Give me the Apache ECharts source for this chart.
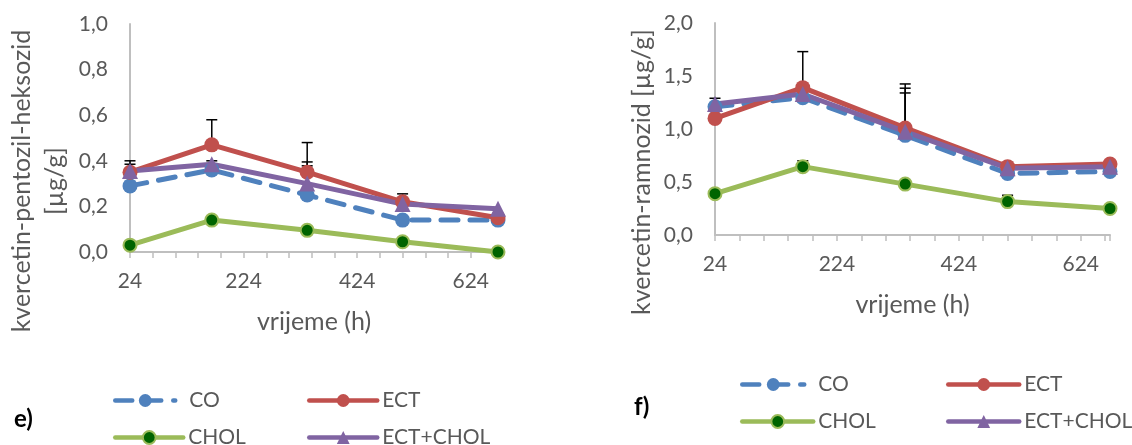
<!DOCTYPE html>
<html>
<head>
<meta charset="utf-8">
<script src="https://cdn.jsdelivr.net/npm/echarts@6/dist/echarts.min.js"></script>
<style>html,body{margin:0;padding:0;background:#fff}#c{width:1132px;height:445px}</style>
</head>
<body>
<div id="c"></div>
<script>
// ---- data ----
const hours = [24, 168, 336, 504, 672];
const seriesNames = ['CO', 'ECT', 'CHOL', 'ECT+CHOL'];

// panel e) kvercetin-pentozil-heksozid
const eCO      = [0.29, 0.36, 0.25, 0.14, 0.14];
const eECT     = [0.35, 0.47, 0.35, 0.22, 0.15];
const eCHOL    = [0.03, 0.14, 0.095, 0.045, 0.0];
const eECTCHOL = [0.355, 0.385, 0.30, 0.21, 0.19];
// upper error bars (null = none visible)
const eCOErr      = [null, null, 0.128, null, null];
const eECTErr     = [0.05, 0.11, 0.13, 0.035, null];
const eCHOLErr    = [null, null, null, null, null];
const eECTCHOLErr = [0.03, 0.015, 0.095, null, null];

// panel f) kvercetin-ramnozid
const fCO      = [1.21, 1.295, 0.94, 0.58, 0.60];
const fECT     = [1.10, 1.39, 1.01, 0.645, 0.67];
const fCHOL    = [0.39, 0.645, 0.48, 0.315, 0.25];
const fECTCHOL = [1.235, 1.33, 0.975, 0.63, 0.645];
const fCOErr      = [null, null, 0.40, null, null];
const fECTErr     = [null, 0.34, 0.415, null, null];
const fCHOLErr    = [null, 0.055, null, 0.06, null];
const fECTCHOLErr = [0.055, null, 0.41, null, null];

const xTitle = 'vrijeme (h)';
const eYTitle = 'kvercetin-pentozil-heksozid\n[µg/g]';
const fYTitle = 'kvercetin-ramnozid [µg/g]';
const xMin = 24, xMax = 672, xStep = 40, xLabelStep = 200;

// ---- styling ----
const F = 'Lato';
const TXT = '#595959';
const AX = '#BFBFBF';
const COL = { 'CO': '#4F81BD', 'ECT': '#C0504D', 'CHOL': '#9BBB59', 'ECT+CHOL': '#8064A2' };

function lineSeries(name, vals, gi) {
  const s = {
    name: name, type: 'line', xAxisIndex: gi, yAxisIndex: gi,
    data: hours.map((h, i) => [h, vals[i]]),
    symbol: 'circle', symbolSize: 15,
    lineStyle: { color: COL[name], width: 5, cap: 'round', join: 'round' },
    itemStyle: { color: COL[name] },
    emphasis: { disabled: true },
    z: 3, animation: false
  };
  if (name === 'CO') { s.lineStyle.type = [17, 12]; }
  if (name === 'CHOL') { s.symbolSize = 13; s.itemStyle = { color: '#006400', borderColor: '#9BBB59', borderWidth: 2 }; }
  if (name === 'ECT+CHOL') { s.symbol = 'triangle'; s.symbolSize = 16; }
  return s;
}

function errSeries(vals, errs, gi) {
  const data = [];
  hours.forEach((h, i) => { if (errs[i] != null) data.push([h, vals[i], vals[i] + errs[i]]); });
  return {
    type: 'custom', xAxisIndex: gi, yAxisIndex: gi, z: 2, silent: true, animation: false,
    data: data,
    renderItem: function (params, api) {
      const p0 = api.coord([api.value(0), api.value(1)]);
      const p1 = api.coord([api.value(0), api.value(2)]);
      const st = { stroke: '#000', lineWidth: 1.5 };
      return { type: 'group', children: [
        { type: 'line', shape: { x1: p0[0], y1: p0[1], x2: p1[0], y2: p1[1] }, style: st },
        { type: 'line', shape: { x1: p1[0] - 5.5, y1: p1[1], x2: p1[0] + 5.5, y2: p1[1] }, style: st }
      ]};
    }
  };
}

function xAxis(gi) {
  return {
    type: 'value', gridIndex: gi, min: xMin, max: xMax, interval: xStep,
    name: xTitle, nameLocation: 'middle', nameGap: 55,
    nameTextStyle: { fontFamily: F, fontSize: 25, color: TXT, lineHeight: 30 },
    axisLine: { show: true, lineStyle: { color: AX, width: 2 } },
    axisTick: { show: true, length: 6, lineStyle: { color: AX, width: 1.5 } },
    splitLine: { show: false },
    axisLabel: { fontFamily: F, fontSize: 21, color: TXT, margin: 19,
      formatter: v => ((v - xMin) % xLabelStep === 0 ? String(v) : '') }
  };
}
function yAxis(gi, max, step) {
  return {
    type: 'value', gridIndex: gi, min: 0, max: max, interval: step,
    axisLine: { show: true, lineStyle: { color: AX, width: 2 } },
    axisTick: { show: false },
    splitLine: { show: false },
    axisLabel: { fontFamily: F, fontSize: 21, color: TXT, margin: 22,
      formatter: v => v.toFixed(1).replace('.', ',') }
  };
}

function leg(name, left, cy, w, pad) {
  return {
    data: [name], left: left, top: cy - 10, itemWidth: w, itemHeight: 16,
    padding: 0, itemGap: 0, selectedMode: false,
    lineStyle: { width: 4.5 },
    textStyle: { fontFamily: F, fontSize: 21, color: TXT, padding: [0, 0, 0, pad] }
  };
}

function yTitle(text, cx, cy) {
  return { type: 'text', x: cx, y: cy, rotation: Math.PI / 2, silent: true,
    style: { text: text, font: '25px Lato', fill: TXT, align: 'center', verticalAlign: 'middle', lineHeight: 33 } };
}

const series = [];
[[eCO, eCOErr], [eECT, eECTErr], [eCHOL, eCHOLErr], [eECTCHOL, eECTCHOLErr]].forEach(p => series.push(errSeries(p[0], p[1], 0)));
[[fCO, fCOErr], [fECT, fECTErr], [fCHOL, fCHOLErr], [fECTCHOL, fECTCHOLErr]].forEach(p => series.push(errSeries(p[0], p[1], 1)));
[eCO, eECT, eCHOL, eECTCHOL].forEach((v, k) => series.push(lineSeries(seriesNames[k], v, 0)));
[fCO, fECT, fCHOL, fECTCHOL].forEach((v, k) => series.push(lineSeries(seriesNames[k], v, 1)));

const option = {
  backgroundColor: '#fff',
  animation: false,
  grid: [
    { left: 130, right: 634, top: 24, bottom: 193 },
    { left: 715, right: 22, top: 23, bottom: 210 }
  ],
  xAxis: [xAxis(0), xAxis(1)],
  yAxis: [yAxis(0, 1, 0.2), yAxis(1, 2, 0.5)],
  legend: [
    leg('CO', 113, 400, 60, 9), leg('ECT', 307, 400, 68, 0),
    leg('CHOL', 113, 437, 68, 0), leg('ECT+CHOL', 307, 437, 68, 0),
    leg('CO', 740, 384, 62, 9), leg('ECT', 946, 384, 71, 0),
    leg('CHOL', 740, 421, 71, 0), leg('ECT+CHOL', 946, 421, 71, 0)
  ],
  graphic: [
    yTitle(eYTitle, 38, 181),
    yTitle(fYTitle, 642, 172),
    { type: 'text', left: 14, top: 407, style: { text: 'e)', font: 'bold 24px Lato', fill: '#000' } },
    { type: 'text', left: 634, top: 395, style: { text: 'f)', font: 'bold 24px Lato', fill: '#000' } }
  ],
  series: series
};

const chart = echarts.init(document.getElementById('c'), null, { renderer: 'canvas' });
chart.setOption(option);
</script>
</body>
</html>
